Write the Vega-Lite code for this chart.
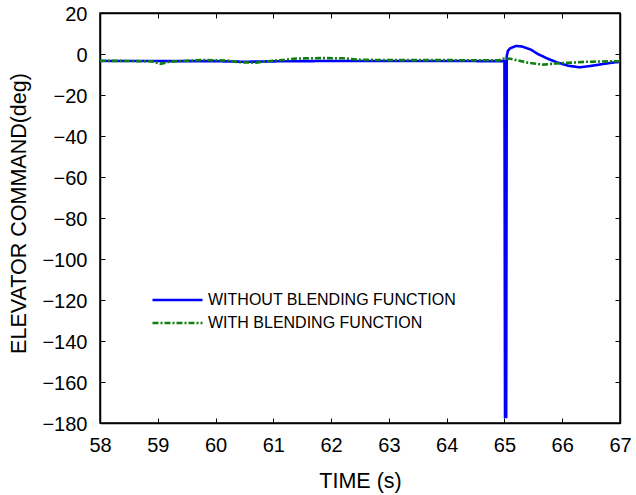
{
  "$schema": "https://vega.github.io/schema/vega-lite/v6.json",
  "width": 520,
  "height": 410,
  "autosize": {"type": "none"},
  "padding": {"left": 100, "top": 13, "right": 16, "bottom": 72},
  "background": "white",
  "config": {
    "font": "Liberation Sans",
    "view": {"stroke": "black", "strokeWidth": 1.5},
    "axis": {"domainColor": "black", "domainWidth": 1.5, "tickColor": "black", "tickSize": -5, "tickWidth": 1, "grid": false, "labelColor": "black", "titleColor": "black", "labelFont": "Liberation Sans", "titleFont": "Liberation Sans", "labelFontSize": 20, "titleFontSize": 21.5, "titleFontWeight": "normal"}
  },
  "data": {"values": [
    {"t": 58.0, "v": -3.4, "series": "WITHOUT BLENDING FUNCTION"},
    {"t": 60.0, "v": -3.5, "series": "WITHOUT BLENDING FUNCTION"},
    {"t": 60.5, "v": -3.8, "series": "WITHOUT BLENDING FUNCTION"},
    {"t": 60.9, "v": -3.6, "series": "WITHOUT BLENDING FUNCTION"},
    {"t": 62.0, "v": -3.4, "series": "WITHOUT BLENDING FUNCTION"},
    {"t": 64.0, "v": -3.4, "series": "WITHOUT BLENDING FUNCTION"},
    {"t": 65.0, "v": -3.5, "series": "WITHOUT BLENDING FUNCTION"},
    {"t": 65.01, "v": -177, "series": "WITHOUT BLENDING FUNCTION"},
    {"t": 65.03, "v": -177, "series": "WITHOUT BLENDING FUNCTION"},
    {"t": 65.04, "v": -1, "series": "WITHOUT BLENDING FUNCTION"},
    {"t": 65.06, "v": 1.5, "series": "WITHOUT BLENDING FUNCTION"},
    {"t": 65.1, "v": 2.8, "series": "WITHOUT BLENDING FUNCTION"},
    {"t": 65.2, "v": 3.9, "series": "WITHOUT BLENDING FUNCTION"},
    {"t": 65.3, "v": 3.7, "series": "WITHOUT BLENDING FUNCTION"},
    {"t": 65.45, "v": 2.2, "series": "WITHOUT BLENDING FUNCTION"},
    {"t": 65.6, "v": -0.3, "series": "WITHOUT BLENDING FUNCTION"},
    {"t": 65.75, "v": -2.3, "series": "WITHOUT BLENDING FUNCTION"},
    {"t": 65.9, "v": -4.0, "series": "WITHOUT BLENDING FUNCTION"},
    {"t": 66.1, "v": -5.7, "series": "WITHOUT BLENDING FUNCTION"},
    {"t": 66.3, "v": -6.5, "series": "WITHOUT BLENDING FUNCTION"},
    {"t": 66.5, "v": -5.8, "series": "WITHOUT BLENDING FUNCTION"},
    {"t": 66.7, "v": -4.9, "series": "WITHOUT BLENDING FUNCTION"},
    {"t": 66.85, "v": -4.3, "series": "WITHOUT BLENDING FUNCTION"},
    {"t": 67.0, "v": -3.8, "series": "WITHOUT BLENDING FUNCTION"},
    {"t": 58.0, "v": -3.3, "series": "WITH BLENDING FUNCTION"},
    {"t": 58.5, "v": -3.4, "series": "WITH BLENDING FUNCTION"},
    {"t": 58.9, "v": -3.6, "series": "WITH BLENDING FUNCTION"},
    {"t": 59.05, "v": -4.8, "series": "WITH BLENDING FUNCTION"},
    {"t": 59.2, "v": -3.8, "series": "WITH BLENDING FUNCTION"},
    {"t": 59.5, "v": -3.3, "series": "WITH BLENDING FUNCTION"},
    {"t": 59.8, "v": -2.9, "series": "WITH BLENDING FUNCTION"},
    {"t": 60.2, "v": -3.2, "series": "WITH BLENDING FUNCTION"},
    {"t": 60.4, "v": -4.0, "series": "WITH BLENDING FUNCTION"},
    {"t": 60.7, "v": -4.3, "series": "WITH BLENDING FUNCTION"},
    {"t": 60.9, "v": -3.5, "series": "WITH BLENDING FUNCTION"},
    {"t": 61.2, "v": -2.8, "series": "WITH BLENDING FUNCTION"},
    {"t": 61.4, "v": -2.2, "series": "WITH BLENDING FUNCTION"},
    {"t": 61.8, "v": -2.0, "series": "WITH BLENDING FUNCTION"},
    {"t": 62.2, "v": -2.1, "series": "WITH BLENDING FUNCTION"},
    {"t": 62.5, "v": -2.8, "series": "WITH BLENDING FUNCTION"},
    {"t": 63.0, "v": -3.0, "series": "WITH BLENDING FUNCTION"},
    {"t": 64.0, "v": -3.0, "series": "WITH BLENDING FUNCTION"},
    {"t": 64.9, "v": -3.1, "series": "WITH BLENDING FUNCTION"},
    {"t": 65.0, "v": -2.2, "series": "WITH BLENDING FUNCTION"},
    {"t": 65.1, "v": -2.3, "series": "WITH BLENDING FUNCTION"},
    {"t": 65.4, "v": -4.2, "series": "WITH BLENDING FUNCTION"},
    {"t": 65.67, "v": -5.2, "series": "WITH BLENDING FUNCTION"},
    {"t": 65.9, "v": -4.6, "series": "WITH BLENDING FUNCTION"},
    {"t": 66.1, "v": -4.3, "series": "WITH BLENDING FUNCTION"},
    {"t": 66.4, "v": -3.8, "series": "WITH BLENDING FUNCTION"},
    {"t": 66.8, "v": -3.6, "series": "WITH BLENDING FUNCTION"},
    {"t": 67.0, "v": -3.5, "series": "WITH BLENDING FUNCTION"}
  ]},
  "resolve": {"axis": {"x": "independent", "y": "independent"}},
  "layer": [
    {
      "mark": {"type": "line", "strokeWidth": 2.6},
      "encoding": {
        "x": {"field": "t", "type": "quantitative", "scale": {"domain": [58, 67], "nice": false, "zero": false},
          "axis": {"title": "TIME (s)", "values": [58, 59, 60, 61, 62, 63, 64, 65, 66, 67], "labelBaseline": "alphabetic", "labelPadding": 33, "titleBaseline": "alphabetic", "titleY": 64, "labelFlush": false}},
        "y": {"field": "v", "type": "quantitative", "scale": {"domain": [-180, 20], "nice": false, "zero": false},
          "axis": {"title": "ELEVATOR COMMAND(deg)", "values": [-180, -160, -140, -120, -100, -80, -60, -40, -20, 0, 20], "labelPadding": 18, "labelOffset": 1, "titleX": -75, "titleY": 200, "titleBaseline": "alphabetic", "titleAlign": "center", "titleAngle": -90}},
        "color": {"field": "series", "type": "nominal", "sort": ["WITHOUT BLENDING FUNCTION", "WITH BLENDING FUNCTION"],
          "scale": {"domain": ["WITHOUT BLENDING FUNCTION", "WITH BLENDING FUNCTION"], "range": ["#0000ff", "#118011"]},
          "legend": {"title": null, "orient": "none", "legendX": 51, "legendY": 277, "symbolType": "stroke", "symbolSize": 2500, "symbolStrokeWidth": 2.6, "labelFontSize": 16, "labelFont": "Liberation Sans", "labelColor": "black", "labelOffset": 4, "labelLimit": 0, "padding": 0, "clipHeight": 20, "rowPadding": 3}},
        "strokeDash": {"field": "series", "type": "nominal", "sort": ["WITHOUT BLENDING FUNCTION", "WITH BLENDING FUNCTION"],
          "scale": {"domain": ["WITHOUT BLENDING FUNCTION", "WITH BLENDING FUNCTION"], "range": [[1, 0], [6, 2, 2, 2]]},
          "legend": {"title": null, "orient": "none", "legendX": 51, "legendY": 277, "symbolType": "stroke", "symbolSize": 2500, "symbolStrokeWidth": 2.6, "labelFontSize": 16, "labelFont": "Liberation Sans", "labelColor": "black", "labelOffset": 4, "labelLimit": 0, "padding": 0, "clipHeight": 20, "rowPadding": 3}},
        "order": {"field": "t", "type": "quantitative"}
      }
    },
    {
      "mark": {"type": "point", "opacity": 0},
      "encoding": {
        "x": {"field": "t", "type": "quantitative", "axis": {"orient": "top", "labels": false, "title": null, "values": [58, 59, 60, 61, 62, 63, 64, 65, 66, 67]}},
        "y": {"field": "v", "type": "quantitative", "axis": {"orient": "right", "labels": false, "title": null, "values": [-180, -160, -140, -120, -100, -80, -60, -40, -20, 0, 20]}}
      }
    }
  ]
}
